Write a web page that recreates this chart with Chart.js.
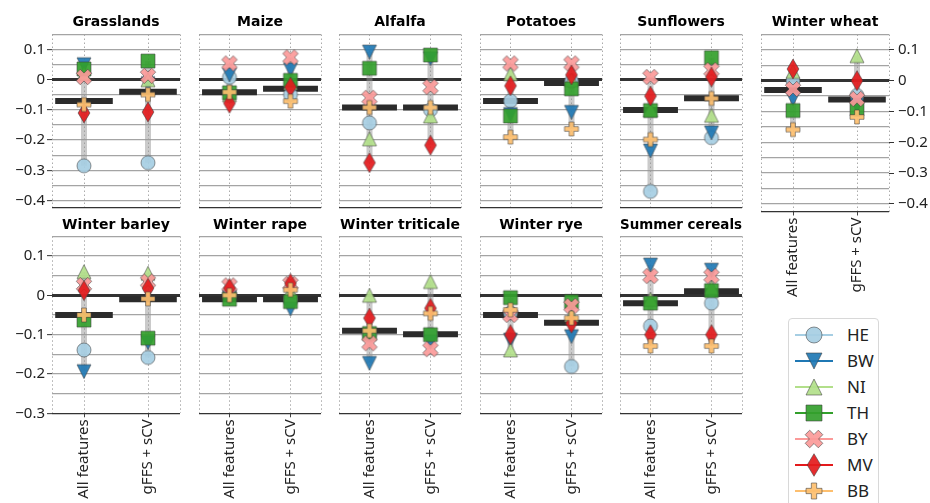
<!DOCTYPE html>
<html>
<head>
<meta charset="utf-8">
<script src="https://cdn.jsdelivr.net/npm/chart.js@4.4.1/dist/chart.umd.min.js"></script>
<style>
  body { margin: 0; background: #fff; }
  #fig { position: relative; width: 930px; height: 503px; overflow: hidden; font-family: 'Noto Sans', sans-serif; }
  #fig canvas.panel { position: absolute; }
  #legend { position: absolute; left: 788px; top: 318px; width: 91px; height: 200px; border: 1px solid #d8d8d8; border-radius: 4px; background: #fff; box-sizing: border-box; }
  #legend .row { position: absolute; left: 0; height: 26px; width: 90px; }
  #legend .row canvas { position: absolute; left: 0; top: 0; }
  #legend .row span { position: absolute; left: 58px; top: 0; line-height: 26px; font-size: 17px; color: #222; }
</style>
</head>
<body>
<div id="fig"></div>
<script>
// panels: first 6 on the top row, the rest on the bottom row
const crops = ['Grasslands', 'Maize', 'Alfalfa', 'Potatoes', 'Sunflowers', 'Winter wheat',
               'Winter barley', 'Winter rape', 'Winter triticale', 'Winter rye', 'Summer cereals'];
const methods = ['All features', 'gFFS + sCV'];
const states = ['HE', 'BW', 'NI', 'TH', 'BY', 'MV', 'BB'];

// one [All features, gFFS + sCV] pair per crop, in crop order
const HE = [[-0.285, -0.275], [0.008, -0.049], [-0.143, -0.1], [-0.07, -0.005], [-0.37, -0.192], [0.0, -0.048],
            [-0.139, -0.158], [0.005, -0.01], [-0.1, -0.1], [-0.045, -0.181], [-0.078, -0.02]];
const BW = [[0.05, -0.013], [0.016, 0.033], [0.092, 0.07], [-0.115, -0.108], [-0.236, -0.176], [-0.059, -0.08],
            [-0.194, -0.12], [-0.005, -0.035], [-0.173, -0.118], [-0.114, -0.105], [0.077, 0.064]];
const NI = [[0.02, 0.0], [-0.05, -0.01], [-0.196, -0.12], [0.02, 0.0], [-0.1, -0.118], [0.03, 0.081],
            [0.06, 0.056], [0.01, 0.01], [0.0, 0.035], [-0.139, -0.05], [-0.01, 0.02]];
const TH = [[0.036, 0.062], [-0.043, -0.002], [0.038, 0.082], [-0.12, -0.03], [-0.102, 0.073], [-0.097, -0.091],
            [-0.063, -0.109], [-0.01, -0.016], [-0.097, -0.1], [-0.006, -0.016], [-0.02, 0.012]];
const BY = [[0.009, 0.013], [0.054, 0.074], [-0.06, -0.024], [0.054, 0.054], [0.009, 0.032], [-0.027, -0.059],
            [0.026, 0.035], [0.025, 0.029], [-0.122, -0.137], [-0.05, -0.027], [0.049, 0.049]];
const MV = [[-0.11, -0.107], [-0.078, -0.024], [-0.275, -0.217], [-0.02, 0.016], [-0.054, 0.009], [0.038, 0.0],
            [0.012, 0.018], [0.018, 0.03], [-0.058, -0.033], [-0.1, -0.071], [-0.1, -0.1]];
const BB = [[-0.082, -0.049], [-0.041, -0.071], [-0.092, -0.092], [-0.19, -0.163], [-0.198, -0.062], [-0.159, -0.118],
            [-0.05, -0.009], [0.0, 0.014], [-0.09, -0.046], [-0.037, -0.058], [-0.129, -0.129]];
const means = [[-0.07, -0.04], [-0.041, -0.03], [-0.092, -0.092], [-0.07, -0.011], [-0.1, -0.061], [-0.03, -0.061],
               [-0.05, -0.01], [-0.01, -0.01], [-0.09, -0.099], [-0.05, -0.07], [-0.02, 0.01]];

const yLabelsTop = [0.1, 0, -0.1, -0.2, -0.3, -0.4];
const yLabelsBottom = [0.1, 0, -0.1, -0.2, -0.3];

const stateValues = [HE, BW, NI, TH, BY, MV, BB];
const colors = ['#a6cee3', '#1f78b4', '#b2df8a', '#33a02c', '#fb9a99', '#e31a1c', '#fdbf6f'];
const shapes = ['o', 'v', '^', 's', 'X', 'd', 'P'];

Chart.defaults.font.family = "'Noto Sans', sans-serif";
Chart.defaults.font.size = 15;
Chart.defaults.color = '#222';

function drawMarker(ctx, shape, cx, cy, s, color) {
  ctx.beginPath();
  const h = s / 2;
  if (shape === 'o') {
    ctx.arc(cx, cy, h, 0, Math.PI * 2);
  } else if (shape === 'v') {
    ctx.moveTo(cx, cy + h); ctx.lineTo(cx - h, cy - h); ctx.lineTo(cx + h, cy - h); ctx.closePath();
  } else if (shape === '^') {
    ctx.moveTo(cx, cy - h); ctx.lineTo(cx - h, cy + h); ctx.lineTo(cx + h, cy + h); ctx.closePath();
  } else if (shape === 's') {
    ctx.rect(cx - h, cy - h, s, s);
  } else if (shape === 'd') {
    ctx.moveTo(cx, cy - 0.707 * s); ctx.lineTo(cx + 0.424 * s, cy);
    ctx.lineTo(cx, cy + 0.707 * s); ctx.lineTo(cx - 0.424 * s, cy); ctx.closePath();
  } else {
    // filled plus, rotated 45 degrees for the X
    const big = shape === 'X' ? s * 0.58 : h;
    const w = shape === 'X' ? s * 0.2 : s / 6;
    const pts = [[-w, -big], [w, -big], [w, -w], [big, -w], [big, w], [w, w], [w, big], [-w, big], [-w, w], [-big, w], [-big, -w], [-w, -w]];
    const a = shape === 'X' ? Math.PI / 4 : 0;
    pts.forEach(([px, py], i) => {
      const x = cx + px * Math.cos(a) - py * Math.sin(a);
      const y = cy + px * Math.sin(a) + py * Math.cos(a);
      if (i) ctx.lineTo(x, y); else ctx.moveTo(x, y);
    });
    ctx.closePath();
  }
  ctx.globalAlpha = 0.92;
  ctx.fillStyle = color;
  ctx.fill();
  ctx.globalAlpha = 1;
  ctx.strokeStyle = 'rgba(60,60,60,0.55)';
  ctx.lineWidth = 1;
  ctx.stroke();
}

const markerImgs = shapes.map((sh, k) => {
  const c = document.createElement('canvas');
  c.width = 28; c.height = 28;
  drawMarker(c.getContext('2d'), sh, 14, 14, 14, colors[k]);
  return c;
});

const fmt = v => {
  const r = Math.round(v * 100) / 100;
  if (r === 0) return '0';
  return (r < 0 ? '\u2212' : '') + Math.abs(r).toFixed(1);
};

const fig = document.getElementById('fig');

crops.forEach((crop, idx) => {
  const topRow = idx < 6;
  const col = topRow ? idx : idx - 6;
  const plotLeft = Math.round(52 + 140.5 * col);
  const leftW = col === 0 ? 52 : 0;
  const rightW = idx === 5 ? 44 : 0;
  const showX = !topRow || idx === 5;
  const yMin = topRow ? -0.425 : -0.3;
  const yLabels = topRow ? yLabelsTop : yLabelsBottom;
  const canvasTop = topRow ? 12 : 215;
  const titlePad = topRow ? 2.5 : 1.3;
  const bottomH = topRow ? (showX ? 100.5 : 4.5) : 91.7;
  const W = leftW + 134 + rightW + 4;
  const H = Math.round(20 + titlePad + 177 + bottomH);

  const canvas = document.createElement('canvas');
  canvas.className = 'panel';
  canvas.width = W; canvas.height = H;
  canvas.style.left = (plotLeft - leftW - 2) + 'px';
  canvas.style.top = canvasTop + 'px';
  fig.appendChild(canvas);

  // gridlines every 0.05 plus the bottom edge
  const yGrid = [yMin];
  for (let k = Math.ceil(yMin / 0.05 - 1e-9); k <= 3; k++) {
    const v = Math.round(k * 5) / 100;
    if (v > yMin + 1e-9) yGrid.push(v);
  }
  const isLabel = v => yLabels.some(l => Math.abs(l - v) < 1e-6);
  const yTicks = s => { s.ticks = yGrid.map(v => ({ value: v })); };

  const rangeData = [], meanData = [];
  methods.forEach((m, j) => {
    const vals = stateValues.map(a => a[idx][j]);
    if (j) { rangeData.push({ x: j - 0.5, y: null }); meanData.push({ x: j - 0.5, y: null }); }
    rangeData.push({ x: j, y: Math.min(...vals) }, { x: j, y: Math.max(...vals) });
    meanData.push({ x: j - 0.45, y: means[idx][j] }, { x: j + 0.45, y: means[idx][j] });
  });

  const datasets = [
    { type: 'line', data: rangeData, borderColor: 'rgba(150,150,150,0.5)', borderWidth: 6, pointRadius: 0, spanGaps: false, order: 20 },
    { type: 'line', data: meanData, borderColor: '#2b2b2b', borderWidth: 6, pointRadius: 0, spanGaps: false, order: 10 }
  ];
  states.forEach((s, k) => {
    datasets.push({
      type: 'scatter', label: s,
      data: methods.map((m, j) => ({ x: j, y: stateValues[k][idx][j] })),
      pointStyle: markerImgs[k], pointRadius: 7, order: 7 - k
    });
  });

  const scales = {
    x: {
      type: 'linear', min: -0.5, max: 1.5,
      afterBuildTicks: s => { s.ticks = [-0.5, 0, 1, 1.5].map(v => ({ value: v })); },
      afterFit: s => { s.height = bottomH; s.paddingLeft = s.paddingRight = s.paddingTop = s.paddingBottom = 0; },
      ticks: {
        display: showX, autoSkip: false, minRotation: 90, maxRotation: 90, padding: 2,
        callback: v => v === 0 ? methods[0] : (v === 1 ? methods[1] : '')
      },
      grid: {
        color: '#ababab', lineWidth: 1, drawTicks: showX, tickLength: 4,
        tickColor: c => (c.tick.value === 0 || c.tick.value === 1) ? '#444' : 'rgba(0,0,0,0)'
      },
      border: { display: false, dash: [1.5, 2.5] }
    },
    y: {
      min: yMin, max: 0.15,
      afterBuildTicks: yTicks,
      afterFit: s => { s.width = leftW; s.paddingLeft = s.paddingRight = s.paddingTop = s.paddingBottom = 0; },
      ticks: { display: leftW > 0, autoSkip: false, padding: 2, callback: v => isLabel(v) ? fmt(v) : '' },
      grid: {
        color: c => Math.abs(c.tick.value) < 1e-9 ? '#333' : (Math.abs(c.tick.value - yMin) < 1e-9 ? '#333' : '#a4a4a4'),
        lineWidth: c => Math.abs(c.tick.value) < 1e-9 ? 3 : 1.3,
        drawTicks: leftW > 0, tickLength: 5, tickWidth: 1,
        tickColor: c => isLabel(c.tick.value) ? '#333' : 'rgba(0,0,0,0)'
      },
      border: { display: false }
    }
  };
  if (rightW) {
    scales.y2 = {
      position: 'right', min: yMin, max: 0.15,
      afterBuildTicks: yTicks,
      afterFit: s => { s.width = rightW; s.paddingLeft = s.paddingRight = s.paddingTop = s.paddingBottom = 0; },
      ticks: { display: true, autoSkip: false, padding: 4, callback: v => isLabel(v) ? fmt(v) : '' },
      grid: {
        drawOnChartArea: false, drawTicks: true, tickLength: 5, tickWidth: 1,
        tickColor: c => isLabel(c.tick.value) ? '#333' : 'rgba(0,0,0,0)'
      },
      border: { display: false }
    };
  }

  new Chart(canvas.getContext('2d'), {
    type: 'scatter',
    data: { datasets },
    options: {
      responsive: false, animation: false, events: [],
      layout: { padding: { left: 2, right: 2, top: 0, bottom: 0 } },
      plugins: {
        legend: { display: false },
        tooltip: { enabled: false },
        title: {
          display: true, text: crop, color: '#000', fullSize: false,
          font: { family: "'DejaVu Sans', sans-serif", size: 14, weight: 'bold', lineHeight: '20px' },
          padding: { top: 0, bottom: titlePad }
        }
      },
      scales
    }
  });
});

// legend
const leg = document.createElement('div');
leg.id = 'legend';
fig.appendChild(leg);
states.forEach((s, k) => {
  const row = document.createElement('div');
  row.className = 'row';
  row.style.top = (3 + 26 * k) + 'px';
  const c = document.createElement('canvas');
  c.width = 52; c.height = 26;
  const ctx = c.getContext('2d');
  ctx.strokeStyle = colors[k];
  ctx.lineWidth = 2;
  ctx.beginPath(); ctx.moveTo(6, 13); ctx.lineTo(44, 13); ctx.stroke();
  drawMarker(ctx, shapes[k], 25, 13, 16, colors[k]);
  const t = document.createElement('span');
  t.textContent = s;
  row.appendChild(c); row.appendChild(t);
  leg.appendChild(row);
});
</script>
</body>
</html>
